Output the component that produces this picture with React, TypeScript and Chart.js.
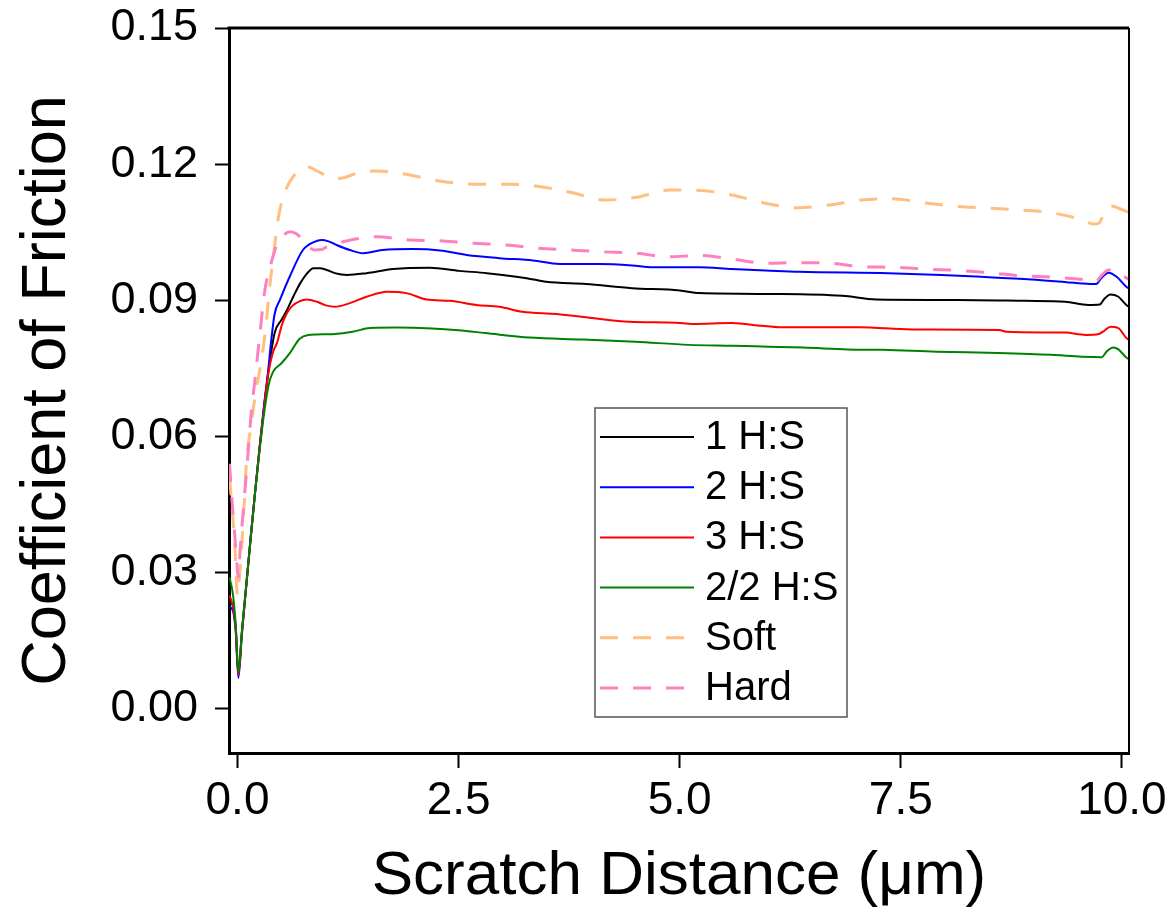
import React, { useEffect, useRef } from "react";
import { Chart, registerables } from "chart.js";

Chart.register(...registerables);

const seriesLabels = ["1 H:S", "2 H:S", "3 H:S", "2/2 H:S", "Soft", "Hard"];

const solidStartX = [-0.09, -0.05, -0.02, 0.01, 0.05, 0.1, 0.15, 0.2, 0.25, 0.3, 0.35];

const blackX = [...solidStartX, 0.42, 0.5, 0.56, 0.64, 0.71, 0.78, 0.86, 0.93, 1.01, 1.1, 1.24, 1.46, 1.76, 2.17, 2.51, 2.82, 3.27, 3.49, 3.94, 4.46, 5.0, 5.22, 6.16, 6.84, 7.22, 8.12, 8.91, 9.36, 9.62, 9.75, 9.8, 9.87, 9.96, 10.05, 10.1];
const blackY = [0.024, 0.0225, 0.018, 0.0078, 0.017, 0.0275, 0.038, 0.048, 0.0575, 0.0665, 0.0745, 0.0828, 0.0858, 0.0879, 0.0912, 0.0938, 0.0958, 0.0971, 0.0971, 0.0967, 0.096, 0.0956, 0.096, 0.0969, 0.0972, 0.0965, 0.096, 0.0949, 0.0941, 0.0936, 0.0927, 0.0922, 0.0916, 0.0914, 0.091, 0.0902, 0.0901, 0.0899, 0.0897, 0.089, 0.0891, 0.0903, 0.0913, 0.0908, 0.089, 0.0884];

const blueX = [...solidStartX, 0.37, 0.42, 0.48, 0.59, 0.74, 0.87, 0.95, 1.03, 1.12, 1.27, 1.42, 1.64, 1.98, 2.29, 2.59, 2.96, 3.34, 3.64, 4.09, 4.46, 4.69, 5.22, 5.59, 5.97, 6.35, 7.36, 7.96, 8.41, 8.98, 9.51, 9.71, 9.77, 9.85, 9.94, 10.05, 10.1];
const blueY = [0.0225, 0.0215, 0.017, 0.0068, 0.0165, 0.0272, 0.0378, 0.048, 0.0577, 0.0668, 0.075, 0.0791, 0.087, 0.0901, 0.0952, 0.1011, 0.1029, 0.1033, 0.103, 0.1022, 0.1011, 0.1004, 0.1011, 0.1013, 0.101, 0.1, 0.0993, 0.0988, 0.098, 0.098, 0.0977, 0.0973, 0.0973, 0.0969, 0.0966, 0.0963, 0.096, 0.0956, 0.0952, 0.0946, 0.0938, 0.0936, 0.095, 0.0961, 0.0952, 0.093, 0.0924];

const redX = [...solidStartX, 0.4, 0.45, 0.5, 0.56, 0.62, 0.7, 0.78, 0.9, 1.0, 1.1, 1.27, 1.46, 1.69, 1.91, 2.14, 2.4, 2.7, 2.96, 3.22, 3.61, 4.01, 4.43, 4.96, 5.14, 5.59, 5.93, 6.12, 7.03, 7.62, 8.61, 8.69, 9.36, 9.59, 9.74, 9.8, 9.87, 9.96, 10.05, 10.1];
const redY = [0.025, 0.0225, 0.0175, 0.0075, 0.0168, 0.0273, 0.0378, 0.048, 0.0575, 0.0662, 0.074, 0.0785, 0.0808, 0.0845, 0.0872, 0.0888, 0.0898, 0.0902, 0.0897, 0.0889, 0.0886, 0.0894, 0.0908, 0.0919, 0.0916, 0.0902, 0.0899, 0.089, 0.0886, 0.0875, 0.087, 0.0861, 0.0853, 0.0851, 0.0848, 0.085, 0.0844, 0.0841, 0.0841, 0.0836, 0.0835, 0.0831, 0.0829, 0.0824, 0.0826, 0.0833, 0.0842, 0.0839, 0.0817, 0.081];

const greenX = [...solidStartX, 0.4, 0.5, 0.6, 0.7, 0.8, 0.9, 1.1, 1.3, 1.5, 1.8, 2.2, 2.5, 2.8, 3.3, 3.9, 4.5, 5.1, 5.6, 6.0, 6.4, 6.9, 7.3, 7.9, 8.6, 9.2, 9.55, 9.77, 9.83, 9.9, 9.96, 10.05, 10.1];
const greenY = [0.029, 0.025, 0.0185, 0.008, 0.0172, 0.0275, 0.0378, 0.0478, 0.057, 0.065, 0.0712, 0.0742, 0.0762, 0.0786, 0.0815, 0.0824, 0.0825, 0.0826, 0.0831, 0.0839, 0.084, 0.0838, 0.0834, 0.0828, 0.0818, 0.0814, 0.0809, 0.0802, 0.08, 0.0798, 0.0796, 0.0792, 0.0791, 0.0787, 0.0784, 0.078, 0.0776, 0.0775, 0.0788, 0.0796, 0.0792, 0.0774, 0.0768];

const softX = [-0.09, -0.06, -0.03, 0.0, 0.03, 0.07, 0.1, 0.15, 0.2, 0.28, 0.33, 0.37, 0.42, 0.46, 0.52, 0.56, 0.62, 0.7, 0.8, 0.9, 1.0, 1.1, 1.2, 1.35, 1.55, 1.75, 1.95, 2.32, 2.7, 3.08, 3.41, 3.79, 4.15, 4.51, 4.88, 5.24, 5.59, 5.97, 6.33, 6.69, 7.05, 7.4, 7.76, 8.13, 8.49, 8.85, 9.2, 9.56, 9.68, 9.74, 9.79, 9.84, 9.88, 9.95, 10.1];
const softY = [0.051, 0.044, 0.036, 0.025, 0.031, 0.043, 0.054, 0.062, 0.069, 0.078, 0.086, 0.094, 0.102, 0.108, 0.113, 0.115, 0.117, 0.1188, 0.1194, 0.1185, 0.1175, 0.1168, 0.117, 0.118, 0.1185, 0.1183, 0.1176, 0.1162, 0.1156, 0.1156, 0.1151, 0.1137, 0.1121, 0.1127, 0.1143, 0.1142, 0.1132, 0.1114, 0.1104, 0.111, 0.1121, 0.1124, 0.1115, 0.1107, 0.1103, 0.1099, 0.1093, 0.1077, 0.1068, 0.107, 0.1088, 0.1103, 0.1108, 0.1104, 0.1092];

const hardX = [-0.09, -0.07, -0.05, -0.03, -0.01, 0.01, 0.03, 0.07, 0.11, 0.15, 0.2, 0.25, 0.31, 0.39, 0.45, 0.5, 0.6, 0.67, 0.74, 0.87, 0.95, 1.01, 1.19, 1.57, 1.95, 2.32, 2.68, 3.04, 3.39, 3.75, 4.13, 4.51, 4.86, 5.24, 5.59, 5.97, 6.33, 6.71, 7.06, 7.42, 7.78, 8.15, 8.49, 8.87, 9.23, 9.59, 9.7, 9.77, 9.85, 9.95, 10.1];
const hardY = [0.054, 0.048, 0.043, 0.038, 0.033, 0.029, 0.035, 0.045, 0.054, 0.064, 0.073, 0.082, 0.0923, 0.0989, 0.1025, 0.104, 0.1051, 0.1046, 0.1033, 0.1011, 0.1012, 0.1018, 0.1029, 0.104, 0.1033, 0.1031, 0.1026, 0.1022, 0.1015, 0.1011, 0.1007, 0.1004, 0.0996, 0.0999, 0.0991, 0.0982, 0.0983, 0.0982, 0.0974, 0.0973, 0.0969, 0.0966, 0.0961, 0.0954, 0.0951, 0.0945, 0.0941, 0.0955, 0.0967, 0.096, 0.0944];

const xTicks = [0, 2.5, 5, 7.5, 10];
const yTicks = [0, 0.03, 0.06, 0.09, 0.12, 0.15];

const FONT = "'Liberation Sans', Arial, sans-serif";

const pts = (xs: number[], ys: number[]) => xs.map((x, i) => ({ x, y: ys[i] }));

const framePlugin = {
  id: "frame",
  afterDraw(chart: any) {
    const { ctx, chartArea } = chart;
    ctx.save();
    ctx.strokeStyle = "#000";
    ctx.lineWidth = 3;
    ctx.beginPath();
    ctx.moveTo(chartArea.left - 1.5, chartArea.top);
    ctx.lineTo(chartArea.right, chartArea.top);
    ctx.stroke();
    ctx.lineWidth = 2;
    ctx.beginPath();
    ctx.moveTo(chartArea.right, chartArea.top);
    ctx.lineTo(chartArea.right, chartArea.bottom);
    ctx.stroke();
    ctx.restore();
  },
};

const legendPlugin = {
  id: "insetLegend",
  afterDraw(chart: any) {
    const ctx = chart.ctx;
    const left = 595, top = 408, w = 252, h = 309;
    ctx.save();
    ctx.fillStyle = "#fff";
    ctx.fillRect(left, top, w, h);
    ctx.strokeStyle = "#555";
    ctx.lineWidth = 1.5;
    ctx.strokeRect(left, top, w, h);
    ctx.font = `40px ${FONT}`;
    ctx.textBaseline = "middle";
    ctx.textAlign = "left";
    chart.data.datasets.forEach((ds: any, i: number) => {
      const y = 437 + i * 50.2;
      ctx.strokeStyle = ds.borderColor;
      ctx.lineWidth = ds.borderWidth;
      ctx.setLineDash(ds.borderDash || []);
      ctx.beginPath();
      ctx.moveTo(600, y);
      ctx.lineTo(694, y);
      ctx.stroke();
      ctx.setLineDash([]);
      ctx.fillStyle = "#000";
      ctx.fillText(ds.label, 705, y + 1);
    });
    ctx.restore();
  },
};

export default function App() {
  const ref = useRef<HTMLCanvasElement | null>(null);
  useEffect(() => {
    if (!ref.current) return;
    const solid = (label: string, color: string, xs: number[], ys: number[], order: number) => ({
      label, data: pts(xs, ys), borderColor: color, borderWidth: 2, pointRadius: 0,
      cubicInterpolationMode: "monotone" as const, order, fill: false,
    });
    const dashed = (label: string, color: string, xs: number[], ys: number[], order: number) => ({
      label, data: pts(xs, ys), borderColor: color, borderWidth: 3, borderDash: [18, 15],
      pointRadius: 0, cubicInterpolationMode: "monotone" as const, order, fill: false,
    });
    const chart = new Chart(ref.current, {
      type: "line",
      data: {
        datasets: [
          solid(seriesLabels[0], "#000000", blackX, blackY, 5),
          solid(seriesLabels[1], "#0000ff", blueX, blueY, 4),
          solid(seriesLabels[2], "#ff0000", redX, redY, 3),
          solid(seriesLabels[3], "#008000", greenX, greenY, 2),
          dashed(seriesLabels[4], "#ffbf80", softX, softY, 1),
          dashed(seriesLabels[5], "#ff80c0", hardX, hardY, 0),
        ],
      },
      options: {
        animation: false,
        responsive: false,
        devicePixelRatio: 1,
        layout: { padding: { top: 28, right: 42, left: 0, bottom: 0 } },
        plugins: { legend: { display: false }, tooltip: { enabled: false } },
        scales: {
          x: {
            type: "linear",
            min: -0.096,
            max: 10.08,
            afterFit: (s: any) => { s.height = 170; s.paddingLeft = 0; s.paddingRight = 0; },
            afterBuildTicks: (s: any) => { s.ticks = xTicks.map((v) => ({ value: v })); },
            grid: { drawOnChartArea: false, drawTicks: true, tickLength: 15, tickWidth: 2, tickColor: "#000" },
            border: { display: true, color: "#000", width: 3 },
            ticks: {
              color: "#000", font: { family: FONT, size: 46 }, padding: 6, maxRotation: 0,
              callback: (v: any) => Number(v).toFixed(1),
            },
            title: {
              display: true, text: "Scratch Distance (μm)", color: "#000",
              font: { family: FONT, size: 62 }, padding: { top: 0, bottom: 9 },
            },
          },
          y: {
            type: "linear",
            min: -0.0097,
            max: 0.15,
            afterFit: (s: any) => { s.width = 229; s.paddingTop = 0; s.paddingBottom = 0; },
            afterBuildTicks: (s: any) => { s.ticks = yTicks.map((v) => ({ value: v })); },
            grid: { drawOnChartArea: false, drawTicks: true, tickLength: 14, tickWidth: 2, tickColor: "#000" },
            border: { display: true, color: "#000", width: 3 },
            ticks: {
              color: "#000", font: { family: FONT, size: 45 }, padding: 17,
              callback: (v: any) => Number(v).toFixed(2),
            },
            title: {
              display: true, text: "Coefficient of Friction", color: "#000",
              font: { family: FONT, size: 63 }, padding: { top: 10, bottom: 0 },
            },
          },
        },
      },
      plugins: [framePlugin, legendPlugin],
    });
    return () => chart.destroy();
  }, []);
  return (
    <div style={{ position: "absolute", left: 0, top: 0, width: 1171, height: 923, background: "#fff" }}>
      <canvas ref={ref} width={1171} height={923} style={{ display: "block" }} />
    </div>
  );
}
